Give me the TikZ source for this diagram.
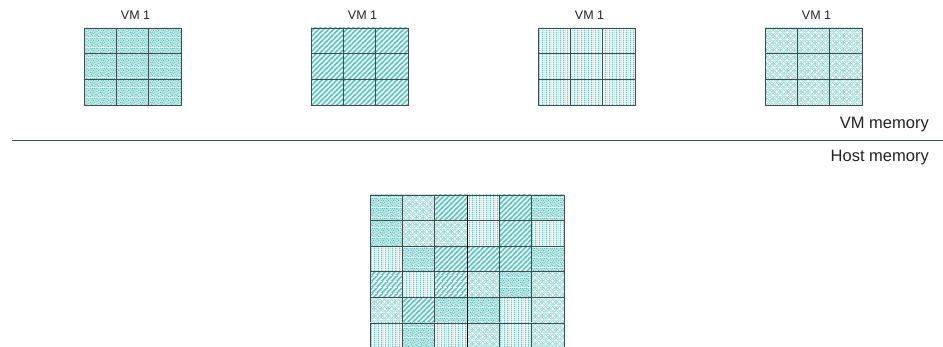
\documentclass[tikz,border=0pt]{standalone}
\usepackage{fontspec}
\setmainfont{Liberation Sans}
\usetikzlibrary{patterns.meta}
\definecolor{gridcol}{RGB}{62,78,80}
\definecolor{txtcol}{RGB}{35,35,35}
\definecolor{stripecol}{RGB}{92,190,185}
\definecolor{stripebg}{RGB}{226,245,243}
\definecolor{dotbg}{RGB}{188,231,228}
\definecolor{dotcol}{RGB}{78,182,177}
\definecolor{vertbg}{RGB}{236,248,247}
\definecolor{vertcol}{RGB}{112,200,196}
\definecolor{latbg}{RGB}{240,250,249}
\definecolor{latcol}{RGB}{150,214,210}
\tikzdeclarepattern{
  name=vmdiag, type=colored,
  bottom left={(0pt,0pt)}, top right={(5.4pt,5.4pt)},
  tile size={(5.4pt,5.4pt)},
  code={
    \fill[stripebg] (0pt,0pt) rectangle (5.4pt,5.4pt);
    \draw[stripecol, line width=1.5pt] (-1pt,-1pt) -- (6.4pt,6.4pt);
    \draw[stripecol, line width=1.5pt] (-1pt,4.4pt) -- (1pt,6.4pt);
    \draw[stripecol, line width=1.5pt] (4.4pt,-1pt) -- (6.4pt,1pt);
  }
}
\tikzdeclarepattern{
  name=vmvert, type=colored,
  bottom left={(0pt,0pt)}, top right={(7pt,2pt)},
  tile size={(7pt,2pt)},
  code={
    \fill[vertbg] (0pt,0pt) rectangle (7pt,2pt);
    \fill[vertcol] (0.2pt,0pt) rectangle (1.1pt,2pt);
    \fill[vertcol] (2.0pt,0pt) rectangle (2.4pt,2pt);
    \fill[vertcol] (3.4pt,0pt) rectangle (4.5pt,2pt);
    \fill[vertcol] (5.5pt,0pt) rectangle (6.0pt,2pt);
  }
}
\tikzdeclarepattern{
  name=vmdots, type=colored,
  bottom left={(0pt,0pt)}, top right={(10pt,10pt)},
  tile size={(10pt,10pt)},
  code={
    \fill[dotbg] (0pt,0pt) rectangle (10pt,10pt);
    \foreach \a/\b in {0.9/0.7, 2.9/1.5, 5.2/0.9, 7.6/1.8, 9.2/0.6, 1.5/3.0, 4.0/3.3,
                       6.4/2.9, 8.7/3.7, 0.7/4.9, 2.6/5.2, 5.3/5.1, 7.5/5.7, 9.2/7.0,
                       1.3/7.3, 3.8/7.0, 6.1/7.6, 8.4/8.5, 0.8/9.2, 2.8/8.9, 4.9/9.3, 7.0/9.4}
      {\fill[dotcol] (\a pt,\b pt) circle (0.6pt);}
    \foreach \a/\b in {2.0/0.3, 6.3/4.2, 3.5/2.3, 8.2/6.5, 1.9/5.9, 5.6/8.3, 9.0/2.4}
      {\fill[white] (\a pt,\b pt) circle (0.45pt);}
  }
}
\tikzdeclarepattern{
  name=vmlattice, type=colored,
  bottom left={(0pt,0pt)}, top right={(7pt,7pt)},
  tile size={(7pt,7pt)},
  code={
    \fill[latbg] (0pt,0pt) rectangle (7pt,7pt);
    \foreach \a/\b in {1.75/1.75, 5.25/5.25}
      {\draw[latcol, line width=0.6pt, rotate around={45:(\a pt,\b pt)}] (\a pt,\b pt) ellipse (2.3pt and 1.15pt);}
    \foreach \a/\b in {5.25/1.75, 1.75/5.25}
      {\draw[latcol, line width=0.6pt, rotate around={-45:(\a pt,\b pt)}] (\a pt,\b pt) ellipse (2.3pt and 1.15pt);}
  }
}
\tikzset{
  cellbox/.style={draw=gridcol, line width=0.9pt},
  vmlabel/.style={font=\fontsize{12.5}{14}\selectfont, text=txtcol, anchor=base, inner sep=0pt},
  memlabel/.style={font=\fontsize{16.5}{18}\selectfont, text=txtcol, anchor=base east, inner sep=0pt},
  divider/.style={draw=gridcol, line width=1pt},
}
\begin{document}
\begin{tikzpicture}[x=1pt,y=1pt]
\clip (0,0) rectangle (943,347);
\fill[white] (0,0) rectangle (943,347);
% top VM grids
\foreach \xo/\p/\k in {84/vmdots/1, 311/vmdiag/2, 538/vmvert/3, 765/vmlattice/4} {
  \foreach \c in {0,1,2} {
    \foreach \r in {0,1,2} {
      \draw[cellbox, pattern=\p] (\xo+\c*32.333, 242+\r*25.667) rectangle ++(32.333,25.667);
    }
  }
  \node[vmlabel] (vm\k) at (\xo+51.5, 327) {VM 1};
}
% divider and labels
\coordinate (divl) at (12,206.5);
\coordinate (divr) at (943,206.5);
\draw[divider] (divl) -- (divr);
\node[memlabel] (vmmem) at (929,218.5) {VM memory};
\node[memlabel] (hostmem) at (929,185) {Host memory};
% host memory grid
\foreach \p [count=\i from 0] in {
  vmdots,vmlattice,vmdiag,vmvert,vmdiag,vmdots,
  vmdots,vmlattice,vmlattice,vmvert,vmdiag,vmvert,
  vmvert,vmdots,vmdiag,vmdiag,vmdiag,vmdots,
  vmdiag,vmvert,vmdiag,vmlattice,vmdots,vmlattice,
  vmlattice,vmdiag,vmdots,vmdots,vmvert,vmlattice,
  vmvert,vmdots,vmvert,vmlattice,vmvert,vmlattice} {
  \pgfmathtruncatemacro\cc{mod(\i,6)}
  \pgfmathtruncatemacro\rr{\i/6}
  \draw[cellbox, pattern=\p] (370+\cc*32.333, 152-\rr*25.6) rectangle ++(32.333,-25.6);
}
\coordinate (midtop) at (467,152);
\coordinate (midbot) at (467,-5);
\draw[black, line width=0.8pt] (midtop) -- (midbot);
\end{tikzpicture}
\end{document}
